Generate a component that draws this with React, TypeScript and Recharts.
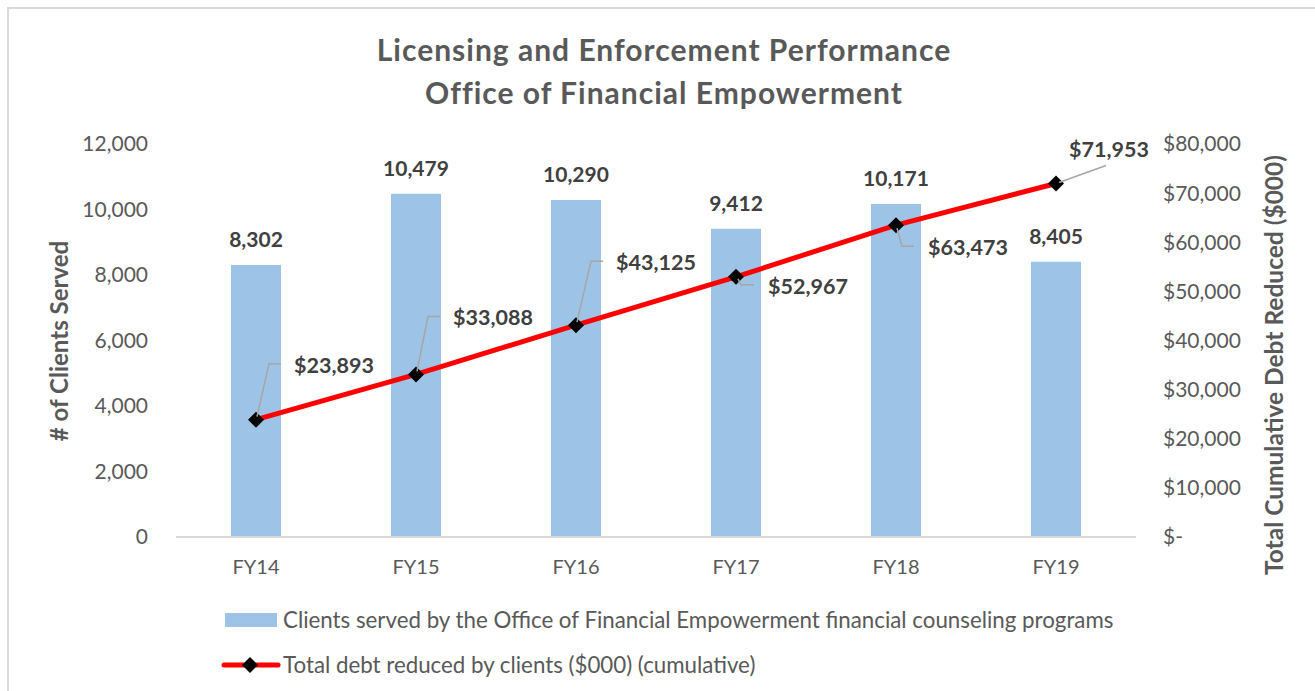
import React from "react";
import { Bar, ComposedChart, LabelList, Line, XAxis, YAxis } from "recharts";

const years = ["FY14", "FY15", "FY16", "FY17", "FY18", "FY19"];
const clientsServed = [8302, 10479, 10290, 9412, 10171, 8405];
const debtReduced = [23893, 33088, 43125, 52967, 63473, 71953];
const clientTicks = [0, 2000, 4000, 6000, 8000, 10000, 12000];
const debtTicks = [0, 10000, 20000, 30000, 40000, 50000, 60000, 70000, 80000];

// where each debt label sits relative to its point, with its leader line
const debtLabelOffsets = [
  { dx: 38, dy: -55, leader: [[1, -3], [13, -56], [25, -56]] },
  { dx: 37, dy: -57, leader: [[1, -3], [12, -58], [24, -58]] },
  { dx: 40, dy: -63, leader: [[1, -3], [15, -64], [27, -64]] },
  { dx: 32, dy: 9, leader: [[2, 2], [5, 8], [18, 8]] },
  { dx: 32, dy: 22, leader: [[1, 3], [6, 21], [18, 21]] },
  { dx: 13, dy: -35, leader: [[3, -1], [50, -18]] },
];

const data = years.map((year, i) => ({
  year,
  clients: clientsServed[i],
  debt: debtReduced[i],
}));

const FONT = "Lato, 'Open Sans', sans-serif";
const GREY = "#595959";
const DARK = "#404040";
const BLUE = "#9DC3E6";
const RED = "#FF0000";

const fmtClients = (v: number) => v.toLocaleString("en-US");
const fmtDebt = (v: number) => (v === 0 ? "$-" : "$" + v.toLocaleString("en-US"));

function Diamond({ cx, cy, size = 8 }: { cx?: number; cy?: number; size?: number }) {
  if (cx == null || cy == null) return null;
  const r = size;
  return <path d={`M${cx},${cy - r} L${cx + r},${cy} L${cx},${cy + r} L${cx - r},${cy} Z`} fill="#000" />;
}

function DebtLabel(props: any) {
  const { x, y, index, value } = props;
  const o = debtLabelOffsets[index];
  if (!o || x == null || y == null) return null;
  const pts = o.leader.map(([px, py]) => `${x + px},${y + py}`).join(" ");
  return (
    <g>
      <polyline points={pts} fill="none" stroke="#A6A6A6" strokeWidth={1.5} />
      <text
        x={x + o.dx}
        y={y + o.dy}
        textAnchor="start"
        dominantBaseline="central"
        fontFamily={FONT}
        fontWeight={700}
        fontSize={21.5}
        fill={DARK}
      >
        {fmtDebt(value)}
      </text>
    </g>
  );
}

export default function App() {
  return (
    <div
      style={{
        position: "absolute",
        left: 0,
        top: 0,
        width: 1315,
        height: 691,
        overflow: "hidden",
        background: "#fff",
        fontFamily: FONT,
      }}
    >
      <div
        style={{
          position: "absolute",
          left: 7,
          top: 7,
          width: 1400,
          height: 800,
          border: "2px solid #D9D9D9",
        }}
      />
      <div
        style={{
          position: "absolute",
          left: 314,
          top: 28,
          width: 700,
          textAlign: "center",
          fontSize: 30,
          fontWeight: 700,
          letterSpacing: 1,
          color: GREY,
          lineHeight: "43px",
        }}
      >
        Licensing and Enforcement Performance
        <br />
        Office of Financial Empowerment
      </div>

      <div style={{ position: "absolute", left: 0, top: 0 }}>
        <ComposedChart
          width={1315}
          height={691}
          data={data}
          margin={{ top: 144, right: 0, bottom: 0, left: 0 }}
        >
          <XAxis
            dataKey="year"
            height={154}
            tickSize={0}
            tickMargin={23}
            tickLine={false}
            axisLine={{ stroke: "#D9D9D9", strokeWidth: 2 }}
            tick={{ fill: GREY, fontSize: 20, fontFamily: FONT }}
          />
          <YAxis
            yAxisId="left"
            width={176}
            domain={[0, 12000]}
            ticks={clientTicks}
            tickFormatter={fmtClients}
            tickSize={0}
            tickMargin={28}
            axisLine={false}
            tickLine={false}
            tick={{ fill: GREY, fontSize: 21, fontFamily: FONT }}
            label={{
              content: () => (
                <text
                  x={58}
                  y={341}
                  transform="rotate(-90 58 341)"
                  textAnchor="middle"
                  dominantBaseline="central"
                  fontFamily={FONT}
                  fontWeight={700}
                  fontSize={24}
                  fill={GREY}
                >
                  # of Clients Served
                </text>
              ),
            }}
          />
          <YAxis
            yAxisId="right"
            orientation="right"
            width={179}
            domain={[0, 80000]}
            ticks={debtTicks}
            tickFormatter={fmtDebt}
            tickSize={0}
            tickMargin={27}
            axisLine={false}
            tickLine={false}
            tick={{ fill: GREY, fontSize: 21, fontFamily: FONT, textAnchor: "start" }}
            label={{
              content: () => (
                <text
                  x={1273}
                  y={365}
                  transform="rotate(-90 1273 365)"
                  textAnchor="middle"
                  dominantBaseline="central"
                  fontFamily={FONT}
                  fontWeight={700}
                  fontSize={24.5}
                  fill={GREY}
                >
                  Total Cumulative Debt Reduced ($000)
                </text>
              ),
            }}
          />
          <Bar yAxisId="left" dataKey="clients" fill={BLUE} barSize={50} isAnimationActive={false}>
            <LabelList
              dataKey="clients"
              position="top"
              offset={18}
              formatter={(v: any) => fmtClients(Number(v))}
              style={{ fill: DARK, fontSize: 21, fontWeight: 700, fontFamily: FONT }}
            />
          </Bar>
          <Line
            yAxisId="right"
            dataKey="debt"
            stroke={RED}
            strokeWidth={5}
            dot={(p: any) => <Diamond key={p.index} cx={p.cx} cy={p.cy} size={8} />}
            activeDot={false}
            isAnimationActive={false}
          >
            <LabelList dataKey="debt" content={<DebtLabel />} />
          </Line>
        </ComposedChart>
      </div>

      {/* legend */}
      <div style={{ position: "absolute", left: 225, top: 613, width: 52, height: 14, background: BLUE }} />
      <div
        style={{ position: "absolute", left: 283, top: 605, lineHeight: "30px", fontSize: 22.3, color: GREY, whiteSpace: "nowrap" }}
      >
        Clients served by the Office of Financial Empowerment financial counseling programs
      </div>
      <svg style={{ position: "absolute", left: 218, top: 650 }} width={66} height={30}>
        <line x1={6} y1={15} x2={60} y2={15} stroke={RED} strokeWidth={5} strokeLinecap="round" />
        <Diamond cx={32} cy={15} size={8} />
      </svg>
      <div
        style={{ position: "absolute", left: 283, top: 650, lineHeight: "30px", fontSize: 22.3, color: GREY, whiteSpace: "nowrap" }}
      >
        Total debt reduced by clients ($000) (cumulative)
      </div>
    </div>
  );
}
